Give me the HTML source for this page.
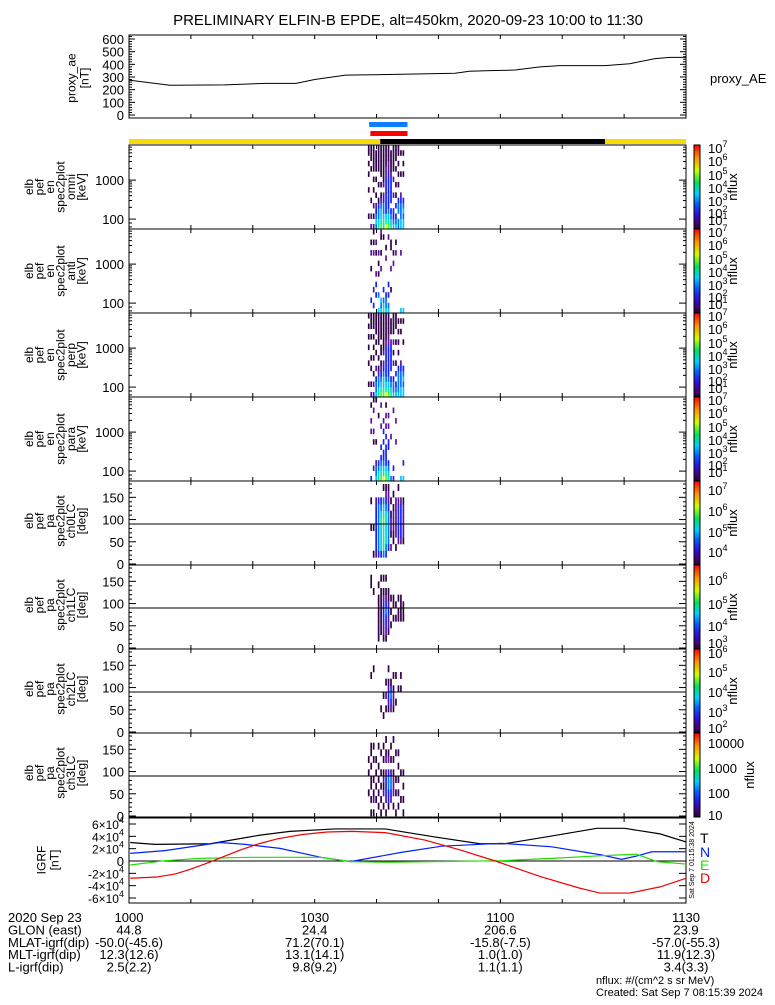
<!DOCTYPE html>
<html><head><meta charset="utf-8"><style>
body{margin:0;background:#fff}
svg text{font-family:"Liberation Sans",sans-serif;fill:#000}
</style></head><body>
<svg id="c" width="775" height="1000" xmlns="http://www.w3.org/2000/svg"></svg>
<script>
// ---- data ----
const aeTimes=[0,6.6,15.5,22,27,30,35,42,52.7,55,58.3,62.4,66.4,69.6,76.9,80.9,85,87.4,90];
const aeValues=[275,235,238,250,250,280,315,320,330,345,350,355,380,390,390,405,445,455,455];
const aeTicks=[0,100,200,300,400,500,600];
const igrfTimes=[0.2,4.2,13.1,21.2,26,33.3,41.4,49.4,56.7,60.7,68,75.6,80.1,85.8,90];
const igrfT=[30000,27000,28000,42000,48000,52000,52000,39000,28000,28000,40000,53000,53000,44000,31000];
const nTimes=[0.2,5.8,14.7,18.8,24.4,31,35.8,44,50.5,60.2,68.3,76.4,79.6,82,84.5,90];
const igrfN=[12400,16800,30000,27000,20500,6000,-1000,14000,24000,28700,23000,9700,2700,8000,15000,15000];
const eTimes=[0.2,5.8,11.5,19.6,31,35.8,41.4,49,60.2,68.3,76.4,82,85.3,90];
const igrfE=[-6500,500,4300,6000,6000,-1000,-2000,-1000,500,4300,8600,11000,-1000,-5000];
const dTimes=[0.2,4.5,7.5,10,12.5,15,18,21,24,28,32,36,41.4,47.8,53.5,59.2,66.4,72.8,76.1,80.9,85.8,90];
const igrfD=[-28000,-26000,-21000,-13000,-4000,6000,18000,28000,36000,43000,47000,48000,46000,34000,18000,0,-25000,-44000,-52000,-52000,-42000,-28000];
const igrfTicks=[-60000,-40000,-20000,0,20000,40000,60000];
const colTimes=[38.6,39.0,39.4,39.8,40.2,40.6,41.0,41.4,41.8,42.2,42.6,43.0,43.4,43.8,44.2];
const omniCols=["..1....1..1.1.11","2.2..1.....1.111","2.1.2..1.1.11111","45432.1..1.1111.","654431..1..11111","7655421.1.111111","6654432.21111111","8653333333221111","7654333333322111","6543.3333321111.","5433..2..2.11111","543.3.1.1..1.111","44.443..1.1.1.11","5544432...1...1.","554543....1.1.1."];
const antiCols=["................","..3.....1..2.1..",".3..2......2.1.1","...3.3.2...1.2..","5..4...1.1.2....","545.....2..1..12","654.3.........1.","5443......2.1...","54.3.3........2.","....1...2...11..",".........2.1....","...........2.1..","................","5..........2....","5..............."];
const perpCols=["..1...1..1.1.1.1","2.1..1.1...1.111","3.2.1..1.1.1.111","5443.2..1.1.1111","654421.1..111111","7654321.11.11111","7655432.21111111","8654333333211111","7654333333221111","6543.333332.111.","5443..2.1.2.1111","543.3.1...1..111","544443..1.1.1.1.","5544432.....1.1.","554543....1...1."];
const paraCols=["................","3........2.2..1.","..2....1.2...2.1","5442...1.......1","6543........1...","76543.3...2...2.","865433.3.3.2....","7653333.3.2.2.1.","6543..33..2.2...","4.......2.......","3.3..........2..",".......2...2....","................","5...............","5..3............"];
const pa0Cols=["............",".....1...1..",".1...1......",".233333332..",".344444443..",".355556543..",".466667654.1",".34555554321","..3444443221","..2.1221.1..","...112221.1.","..1.222222..","...2333332.1","...2333332..","...1222221.."];
const pa1Cols=["............",".........11.","........1...","............",".1111111.1..","..1111111.1.",".12233321.1.",".12334321.1.","..1223211...","...1.1.1....","....1.11....","....1.1.....","....11.1....","....1111....","....111....."];
const pa2Cols=["............","........1...",".........1..","............","............","...1........","..1..1......","...1.2.1....","...12321.1..","...23431....","...1221.1...","....1...1...","......1.....","......1.1...","............"];
const pa3Cols=["...1..1.1...","1.1.11.1.11.","1.21.1..1.1.","..1.1.1.1...",".1.1.1.1..1.","1.1.1.1..1..",".1.2121.1.1.","1.23332.21.1",".133443.21..","..23442.1.1.",".1.2221.1..1","1..1.1...1..",".1.1.1.1.1..","..1...1.....","1.1.1.1....."];
const timeLabels=["1000","1030","1100","1130"];
const glon=["44.8","24.4","206.6","23.9"];
const mlat=["-50.0(-45.6)","71.2(70.1)","-15.8(-7.5)","-57.0(-55.3)"];
const mlt=["12.3(12.6)","13.1(14.1)","1.0(1.0)","11.9(12.3)"];
const lval=["2.5(2.2)","9.8(9.2)","1.1(1.1)","3.4(3.3)"];

// ---- helpers ----
const svg=document.getElementById('c');const NS="http://www.w3.org/2000/svg";
function mk(tag,attrs,parent){const e=document.createElementNS(NS,tag);for(const k in attrs)e.setAttribute(k,attrs[k]);(parent||svg).appendChild(e);return e;}
function txt(x,y,s,size,anchor,parent,fill){const e=mk('text',{x:x,y:y,'font-size':size||13,'text-anchor':anchor||'start'},parent);if(fill)e.setAttribute('fill',fill),e.style.fill=fill;e.textContent=s;return e;}
const X0=129,X1=686;
function xs(t){return X0+t*(X1-X0)/90;}
const levelColors={'1':'#300048','2':'#5a10a0','3':'#1020ff','4':'#0070ff','5':'#00c8ff','6':'#00f0a0','7':'#40ff20','8':'#e8ff00','9':'#ff9000'};

mk('rect',{x:0,y:0,width:775,height:1000,fill:'#fff'});
let t=txt(408,25,"PRELIMINARY ELFIN-B EPDE, alt=450km, 2020-09-23 10:00 to 11:30",15,'middle');


function frame(top,h,name){
  const g=mk('g',{});
  mk('rect',{x:X0,y:top,width:X1-X0,height:h,fill:'none',stroke:'#000','stroke-width':1},g);
  for(let m=10;m<90;m+=10){const x=xs(m);mk('line',{x1:x,x2:x,y1:top,y2:top+4,stroke:'#000'},g);mk('line',{x1:x,x2:x,y1:top+h,y2:top+h-4,stroke:'#000'},g);}
  return g;
}
function vlabel(lines,cx,cy,spacing,g){
  lines.forEach((s,i)=>{const x=cx-(lines.length-1)*spacing/2+i*spacing;const e=txt(0,0,s,12,'middle',g);e.setAttribute('transform',`translate(${x+4},${cy}) rotate(-90)`);});
}
function sup(x,y,base,exp,g){const e=txt(x,y,base,13,'start',g);const ts=document.createElementNS(NS,'tspan');ts.setAttribute('font-size','9');ts.setAttribute('dy','-6');ts.textContent=exp;e.appendChild(ts);return e;}

// ---- AE panel ----
(function(){
  const top=35,h=83,g=frame(top,h,'proxy-ae-panel');
  const ya=v=>115-v*(76/600);
  aeTicks.forEach(v=>{txt(124,ya(v)+5,String(v),13,'end',g);mk('line',{x1:X0,x2:X0+6,y1:ya(v),y2:ya(v),stroke:'#000'},g);mk('line',{x1:X1,x2:X1-6,y1:ya(v),y2:ya(v),stroke:'#000'},g);
    for(let k=1;k<5;k++){const yy=ya(v+k*20);if(yy>top){mk('line',{x1:X0,x2:X0+3,y1:yy,y2:yy,stroke:'#000'},g);mk('line',{x1:X1,x2:X1-3,y1:yy,y2:yy,stroke:'#000'},g);}}});
  const p=mk('polyline',{points:aeTimes.map((tt,i)=>xs(tt)+','+ya(aeValues[i])).join(' '),fill:'none',stroke:'#000','stroke-width':1},g);
  
  vlabel(["proxy_ae","[nT]"],78,78,13,g);
  txt(710,83,"proxy_AE",13,'start',g);
})();
// bars
let r=mk('rect',{x:xs(38.8),y:122,width:xs(45)-xs(38.8),height:5,fill:'#0a80ff'});
r=mk('rect',{x:xs(39),y:131,width:xs(45)-xs(39),height:5,fill:'#f00'});
r=mk('rect',{x:X0,y:139,width:X1-X0,height:5,fill:'#f8dc00'});
r=mk('rect',{x:xs(40.6),y:139,width:xs(76.9)-xs(40.6),height:5,fill:'#000'});

function colorbar(top,h,labels,g,nfx){
  const id='grad'+top;const d=mk('defs',{},g);const lg=mk('linearGradient',{id:id,x1:0,y1:1,x2:0,y2:0},d);
  [['0','#200030'],['0.06','#40006a'],['0.18','#3010e0'],['0.3','#0060ff'],['0.42','#00d0ff'],['0.55','#00e060'],['0.7','#d0ff00'],['0.85','#ff9000'],['1','#ff0000']].forEach(s=>mk('stop',{offset:s[0],'stop-color':s[1]},lg));
  const cb=mk('rect',{x:694,y:top,width:6,height:h,fill:`url(#${id})`,stroke:'#000','stroke-width':1},g);
  
  labels.forEach(l=>{if(l[1]===null)txt(708,l[0],l[2],13,'start',g);else sup(708,l[0],'10',l[1],g);});
  const e=txt(0,0,'nflux',13,'middle',g);e.setAttribute('transform',`translate(${nfx||741},${top+h/2}) rotate(-90)`);
}
const energyLabels=[[153,'7'],[166,'6'],[180,'5'],[193,'4'],[206,'3'],[218,'2'],[225,'1']];
function energyPanel(top,cols,name,sub){
  const h=84,g=frame(top,h,name);
  const yl=lg=>top+(3.9-lg)*39;
  [2,3].forEach(dec=>{for(let k=1;k<10;k++){const yy=yl(dec+Math.log10(k));if(yy>top&&yy<top+h){const w=k===1?7:3;mk('line',{x1:X0,x2:X0+w,y1:yy,y2:yy,stroke:'#000'},g);mk('line',{x1:X1,x2:X1-w,y1:yy,y2:yy,stroke:'#000'},g);}}});
  [1.8,1.9].forEach(lg=>{const yy=yl(lg);mk('line',{x1:X0,x2:X0+3,y1:yy,y2:yy,stroke:'#000'},g);});
  txt(124,yl(3)+5,"1000",13,'end',g);txt(124,yl(2)+5,"100",13,'end',g);
  const nb=16,bmin=1.74,db=(3.9-1.74)/nb;
  cols.forEach((s,i)=>{const x=xs(colTimes[i]),w=xs(colTimes[i]+0.4)-x;
    for(let j=0;j<s.length;j++){const c=s[j];if(c==='.')continue;const y2=yl(bmin+j*db),y1=yl(bmin+(j+1)*db);
      const rc=mk('rect',{x:x,y:y1,width:w>2?w-0.8:w,height:y2-y1+0.3,fill:levelColors[c]},g);
      }});
  vlabel(["elb","pef","en","spec2plot",sub,"[keV]"],55,top+42,10.5,g);
  colorbar(top,h,energyLabels.map(l=>[l[0]-145+top,l[1]]),g,737);
}
energyPanel(145,omniCols,'omni-energy-spectrogram','omni');
energyPanel(229,antiCols,'anti-energy-spectrogram','anti');
energyPanel(313,perpCols,'perp-energy-spectrogram','perp');
energyPanel(397,paraCols,'para-energy-spectrogram','para');

function paPanel(top,cols,name,sub,labels,nfx){
  const h=84,g=frame(top,h,name);
  const yp=a=>top+83-a*(80/180);
  [0,50,100,150].forEach(a=>txt(124,yp(a)+5,String(a),13,'end',g));
  for(let a=0;a<=180;a+=10){const w=a%50===0?7:3;mk('line',{x1:X0,x2:X0+w,y1:yp(a),y2:yp(a),stroke:'#000'},g);mk('line',{x1:X1,x2:X1-w,y1:yp(a),y2:yp(a),stroke:'#000'},g);}
  cols.forEach((s,i)=>{const x=xs(colTimes[i]),w=xs(colTimes[i]+0.4)-x;
    for(let j=0;j<s.length;j++){const c=s[j];if(c==='.')continue;const y2=yp(j*15),y1=yp((j+1)*15);
      const rc=mk('rect',{x:x,y:y1,width:w-0.8,height:y2-y1+0.3,fill:levelColors[c]},g);
      }});
  mk('line',{x1:X0,x2:X1,y1:yp(90),y2:yp(90),stroke:'#000'},g);
  vlabel(["elb","pef","pa","spec2plot",sub,"[deg]"],55,top+40,10.5,g);
  colorbar(top,h,labels,g,nfx);
}
paPanel(481,pa0Cols,'ch0lc-pitch-angle-spectrogram','ch0LC',[[495,'7'],[516,'6'],[537,'5'],[557,'4']],737);
paPanel(565,pa1Cols,'ch1lc-pitch-angle-spectrogram','ch1LC',[[585,'6'],[609,'5'],[631,'4'],[648,'3']],737);
paPanel(649,pa2Cols,'ch2lc-pitch-angle-spectrogram','ch2LC',[[658,'6'],[677,'5'],[697,'4'],[717,'3'],[733,'2']],737);
paPanel(733,pa3Cols,'ch3lc-pitch-angle-spectrogram','ch3LC',[[748,null,'10000'],[773,null,'1000'],[798,null,'100'],[820,null,'10']],754);

// ---- IGRF ----
(function(){
  const top=818,h=85,g=frame(top,h,'igrf-panel');
  const yv=v=>861-v/1622;
  igrfTicks.forEach(v=>{const y=yv(v);mk('line',{x1:X0,x2:X0+7,y1:y,y2:y,stroke:'#000'},g);mk('line',{x1:X1,x2:X1-7,y1:y,y2:y,stroke:'#000'},g);
    if(v===0)txt(124,y+5,"0",13,'end',g);else{const e=txt(124,y+5,(v/10000)+"×10",12,'end',g);const ts=document.createElementNS(NS,'tspan');ts.setAttribute('font-size','9');ts.setAttribute('dy','-6');ts.textContent='4';e.appendChild(ts);}});
  mk('line',{x1:X0,x2:X1,y1:yv(0),y2:yv(0),stroke:'#000'},g);
  [[igrfTimes,igrfT,'#000','igrf-t-line'],[nTimes,igrfN,'#0020ff','igrf-n-line'],[eTimes,igrfE,'#20e000','igrf-e-line'],[dTimes,igrfD,'#f00000','igrf-d-line']].forEach(s=>{
    const p=mk('polyline',{points:s[0].map((tt,i)=>xs(tt)+','+yv(s[1][i])).join(' '),fill:'none',stroke:s[2],'stroke-width':1.2},g);
    });
  vlabel(["IGRF","[nT]"],48,860,13,g);
  txt(700,843,"T",14,'start',g,'#000');txt(700,857,"N",14,'start',g,'#0020ff');txt(700,870,"E",14,'start',g,'#20e000');txt(700,883,"D",14,'start',g,'#f00000');
  const e=txt(0,0,"Sat Sep  7 01:15:38 2024",7,'middle',g);e.setAttribute('transform','translate(694,860) rotate(-90)');
})();

// ---- bottom annotation ----
(function(){
  const g=mk('g',{});
  const rows=[["2020 Sep 23",timeLabels],["GLON (east)",glon],["MLAT-igrf(dip)",mlat],["MLT-igrf(dip)",mlt],["L-igrf(dip)",lval]];
  const xsL=[xs(0),xs(30),xs(60),xs(90)];
  rows.forEach((r,i)=>{const y=922+i*12.4;txt(8,y,r[0],13,'start',g);r[1].forEach((v,j)=>txt(xsL[j],y,v,13,'middle',g));});
  txt(596,984,"nflux: #/(cm^2 s sr MeV)",11,'start',g);
  txt(596,996,"Created: Sat Sep  7 08:15:39 2024",11,'start',g);
})();
</script>
</body></html>
